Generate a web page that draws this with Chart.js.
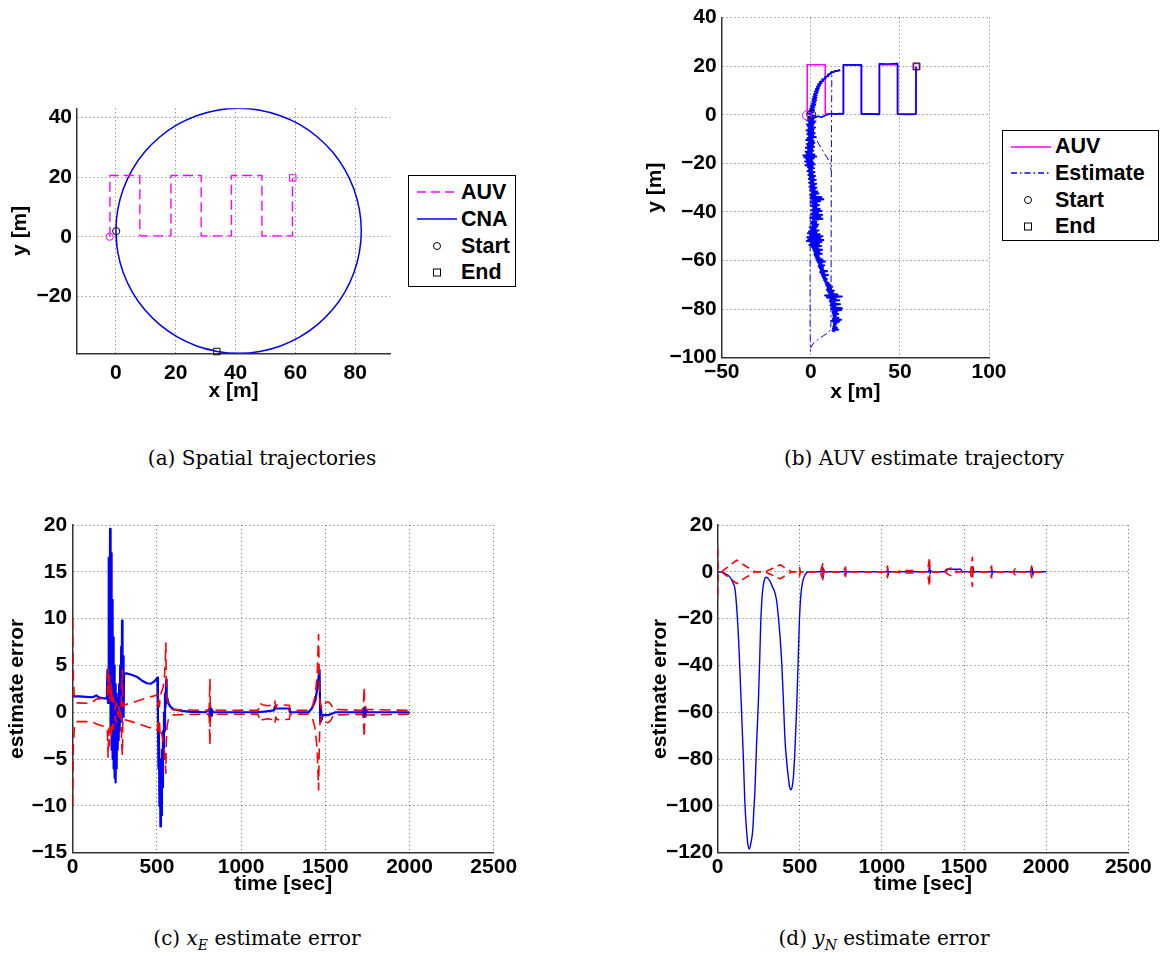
<!DOCTYPE html>
<html><head><meta charset="utf-8">
<script src="https://cdn.jsdelivr.net/npm/chart.js@4.4.1/dist/chart.umd.min.js"></script>
<style>
html,body{margin:0;padding:0;background:#fff;}
body{width:1161px;height:968px;position:relative;overflow:hidden;}
canvas{position:absolute;}
.legend{position:absolute;border:1px solid #000;background:#fff;box-sizing:border-box;z-index:5;}
.legend span{position:absolute;font:bold 21.5px "Liberation Sans",Arial,Helvetica,sans-serif;line-height:24px;height:24px;white-space:nowrap;color:#000;}
.legend svg{position:absolute;left:0;top:0;}
.cap{position:absolute;width:400px;text-align:center;font:20px "DejaVu Serif",serif;line-height:24px;color:#000;white-space:nowrap;}
.cap sub{font-size:70%;}
</style></head><body>

<div class="legend" style="left:408px;top:175px;width:108px;height:112px;">
  <svg width="106" height="110">
    <line x1="8" y1="16" x2="48" y2="16" stroke="#ff00ff" stroke-width="1.4" stroke-dasharray="9,5"/>
    <line x1="8" y1="43" x2="48" y2="43" stroke="#0000ff" stroke-width="1.4"/>
    <circle cx="28" cy="70" r="3.5" fill="none" stroke="#000" stroke-width="1"/>
    <rect x="24.5" y="93" width="7" height="7" fill="none" stroke="#000" stroke-width="1"/>
  </svg>
  <span style="left:52px;top:4px;">AUV</span>
  <span style="left:52px;top:31px;">CNA</span>
  <span style="left:52px;top:58px;">Start</span>
  <span style="left:52px;top:84px;">End</span>
</div>

<div class="legend" style="left:1002px;top:130px;width:157px;height:111px;">
  <svg width="155" height="109">
    <line x1="8" y1="16" x2="48" y2="16" stroke="#ff00ff" stroke-width="1.4"/>
    <line x1="8" y1="42" x2="48" y2="42" stroke="#0000ff" stroke-width="1.3" stroke-dasharray="6,3,1.5,3"/>
    <circle cx="25" cy="69" r="3.5" fill="none" stroke="#000" stroke-width="1"/>
    <rect x="21.5" y="92" width="7" height="7" fill="none" stroke="#000" stroke-width="1"/>
  </svg>
  <span style="left:52px;top:3px;">AUV</span>
  <span style="left:52px;top:30px;">Estimate</span>
  <span style="left:52px;top:57px;">Start</span>
  <span style="left:52px;top:83px;">End</span>
</div>

<div class="cap" style="left:62px;top:446px;">(a) Spatial trajectories</div>
<div class="cap" style="left:724px;top:446px;">(b) AUV estimate trajectory</div>
<div class="cap" style="left:57px;top:926px;">(c) <i>x<sub>E</sub></i> estimate error</div>
<div class="cap" style="left:684px;top:926px;">(d) <i>y<sub>N</sub></i> estimate error</div>

<script>
// ---------- tick labels ----------
const aXTicks = [0, 20, 40, 60, 80];
const aYTicks = [-20, 0, 20, 40];
const bXTicks = [-50, 0, 50, 100];
const bYTicks = [-100, -80, -60, -40, -20, 0, 20, 40];
const cXTicks = [0, 500, 1000, 1500, 2000, 2500];
const cYTicks = [-15, -10, -5, 0, 5, 10, 15, 20];
const dXTicks = [0, 500, 1000, 1500, 2000, 2500];
const dYTicks = [-120, -100, -80, -60, -40, -20, 0, 20];

// ---------- (a) spatial trajectories ----------
const aAuv = [[-2,0],[-2,20.5],[8,20.5],[8,0.3],[18.4,0.3],[18.4,20.5],[28.5,20.5],[28.5,0.3],[38.6,0.3],[38.6,20.5],[48.8,20.5],[48.8,0.3],[59,0.3],[59,19.7]];
const aCna = [[0,2],[0.62,-5.12],[2.47,-12.02],[5.49,-18.5],[9.59,-24.35],[14.65,-29.41],[20.5,-33.51],[26.98,-36.53],[33.88,-38.38],[41,-39],[48.12,-38.38],[55.02,-36.53],[61.5,-33.51],[67.35,-29.41],[72.41,-24.35],[76.51,-18.5],[79.53,-12.02],[81.38,-5.12],[82,2],[81.38,9.12],[79.53,16.02],[76.51,22.5],[72.41,28.35],[67.35,33.41],[61.5,37.51],[55.02,40.53],[48.12,42.38],[41,43],[33.88,42.38],[26.98,40.53],[20.5,37.51],[14.65,33.41],[9.59,28.35],[5.49,22.5],[2.47,16.02],[0.62,9.12],[0,2],[0.62,-5.12],[2.47,-12.02],[5.49,-18.5],[9.59,-24.35],[14.65,-29.41],[20.5,-33.51],[26.98,-36.53],[33.88,-38.38]];
const aAuvStart = [[-2.1,0]];
const aAuvEnd = [[59.1,19.7]];
const aCnaStart = [[0.1,1.9]];
const aCnaEnd = [[33.7,-38.4]];

// ---------- (b) AUV estimate trajectory ----------
const bAuv = [[-2,0],[-2,20.6],[8.1,20.6],[8.1,0.4],[18.3,0.4],[18.3,20.5],[28.4,20.5],[28.4,0.3],[38.5,0.3],[38.5,20.6],[48.7,20.6],[48.7,0.3],[59,0.3],[59,19.9]];
const bEstLawn = [[11.8,0.5],[14,0.3],[16,0.5],[18.3,0.4],[18.3,10],[18.3,20.6],[23,20.5],[28.4,20.6],[28.4,10],[28.4,0.3],[33,0.4],[38.5,0.2],[38.5,10],[38.5,21],[43,20.9],[48.7,21.1],[48.7,10],[48.7,0.3],[54,0.2],[59,0.3],[59,10],[59.1,19.8]];
const bEstUp = [[0,0],[-1.2,0.5],[1.4,1],[-0.8,1.5],[1.8,2],[-0.4,2.5],[2,3],[0,3.5],[2.4,4],[0.4,4.5],[2.6,5],[0.8,5.5],[3,6],[1,6.5],[3.2,7],[1.4,7.5],[3.4,8],[1.8,8.5],[3.8,9],[2.2,9.5],[4.2,10],[2.8,10.5],[4.6,11],[3.4,11.5],[5.2,12],[4,12.5],[6,13],[5,13.5],[7,14],[6.4,14.5],[8.4,15],[8,15.5],[10,16],[9.6,16.5],[11.4,17],[11.2,17.4],[13,17.6],[13.4,18],[14.8,18],[16.5,18.4]];
const bEstArm = [[0,-0.5],[2,-1.2],[4,-0.6],[6,-1],[8,-0.3],[10,0.2],[11.8,0.4]];
const bEstDown = [[0,0],[1.8,-0.4],[-1.2,-0.8],[2.2,-1.2],[-1.5,-1.6],[1.4,-2],[-2,-2.4],[2.6,-2.8],[-1,-3.2],[1.8,-3.6],[-2.2,-4],[1.2,-4.4],[-1.6,-4.8],[2.4,-5.2],[-1.2,-5.6],[1.6,-6],[-2.4,-6.4],[1,-6.8],[-1.4,-7.2],[2.2,-7.6],[-2,-8],[1.4,-8.4],[-1,-8.8],[2.8,-9.2],[-1.8,-9.6],[1,-10],[-2.6,-10.4],[1.6,-10.8],[-1.2,-11.2],[2,-11.6],[-2.2,-12],[1.2,-12.4],[-1.8,-12.8],[1.8,-13.2],[-2.8,-13.6],[0.8,-14],[-1.6,-14.4],[1.4,-14.8],[-3,-15.2],[0.6,-15.6],[-2.2,-16],[2,-16.4],[-4.2,-16.8],[3,-17.2],[-3.6,-17.6],[1.6,-18],[-2.4,-18.4],[0.8,-18.8],[-3.2,-19.2],[1.4,-19.6],[-2,-20],[2.2,-20.4],[-3,-20.8],[1,-21.2],[-1.6,-21.6],[1.8,-22],[-1,-22.4],[0.6,-22.8],[-2,-23.2],[2,-23.6],[-0.8,-24],[1.2,-24.4],[-1.4,-24.8],[2.4,-25.2],[-0.6,-25.6],[1.6,-26],[-1.2,-26.4],[2.8,-26.8],[0,-27.2],[1.4,-27.6],[-1,-28],[3,-28.4],[0.2,-28.8],[2,-29.2],[-0.8,-29.6],[3.2,-30],[0.4,-30.4],[2.2,-30.8],[-0.4,-31.2],[3.6,-31.6],[0.6,-32],[4.4,-32.4],[-0.4,-32.8],[2.6,-33.2],[0.2,-33.6],[6,-34],[-0.2,-34.4],[7,-34.8],[0.8,-35.2],[5.2,-35.6],[0,-36],[3.4,-36.4],[1,-36.8],[4.6,-37.2],[0.4,-37.6],[3,-38],[1.4,-38.4],[5,-38.8],[0.6,-39.2],[6,-39.6],[1,-40],[4,-40.4],[0.2,-40.8],[6.4,-41.2],[0.8,-41.6],[5.4,-42],[-0.2,-42.4],[6.6,-42.8],[1.2,-43.2],[3.4,-43.6],[0.4,-44],[3,-44.4],[0,-44.8],[4.2,-45.2],[1,-45.6],[3.6,-46],[-0.6,-46.4],[2.8,-46.8],[0.2,-47.2],[4.4,-47.6],[-1,-48],[3.2,-48.4],[-1.6,-48.8],[5,-49.2],[-0.4,-49.6],[6.6,-50],[-2,-50.4],[5.4,-50.8],[-1.4,-51.2],[7,-51.6],[-2.2,-52],[6,-52.4],[0,-52.8],[4.6,-53.2],[-0.8,-53.6],[5.8,-54],[0.6,-54.4],[4,-54.8],[1.2,-55.2],[6.4,-55.6],[1.6,-56],[4.8,-56.4],[2.2,-56.8],[6.2,-57.2],[2,-57.6],[4.4,-58],[2.6,-58.4],[5,-58.8],[3,-59.2],[6.6,-59.6],[3.4,-60],[8,-60.4],[4,-60.8],[6,-61.2],[4.6,-61.6],[7.6,-62],[4.4,-62.4],[6.8,-62.8],[5,-63.2],[7,-63.6],[5.6,-64],[9.2,-64.4],[5.2,-64.8],[7.4,-65.2],[6,-65.6],[9.6,-66],[6.4,-66.4],[8,-66.8],[7,-67.2],[9,-67.6],[7.4,-68],[8.8,-68.4],[8,-68.8],[10,-69.2],[8.4,-69.6],[11,-70],[8.8,-70.4],[12,-70.8],[9.4,-71.2],[11.4,-71.6],[9,-72],[13,-72.4],[9.6,-72.8],[12.4,-73.2],[10.4,-73.6],[15,-74],[8,-74.4],[17.4,-74.8],[9,-75.2],[14,-75.6],[11,-76],[16,-76.4],[10.6,-76.8],[13.4,-77.2],[11.4,-77.6],[16.4,-78],[11,-78.4],[13.6,-78.8],[12,-79.2],[17.4,-79.6],[11.6,-80],[17,-80.4],[12.4,-80.8],[14.6,-81.2],[12.2,-81.6],[15.4,-82],[12.6,-82.4],[14,-82.8],[12.8,-83.2],[15.6,-83.6],[12.4,-84],[17,-84.4],[11.6,-84.8],[15.8,-85.2],[12.8,-85.6],[14.4,-86],[13,-86.4],[13.8,-86.8],[12.6,-87.2],[14.6,-87.6],[12.4,-88],[15.4,-88.4],[12.2,-88.8],[13.6,-89.2]];
const bEstThinA = [[-0.2,-4],[-0.3,-30],[-0.4,-60],[-0.4,-85],[-0.3,-95],[-0.2,-97.5]];
const bEstThinB = [[-0.2,-96],[1.5,-94],[4,-92.5],[7,-91],[9.5,-89.8],[11,-88.5],[11.3,-86],[11.4,-60],[11.5,-30],[11.6,-10],[11.7,5],[11.8,18]];
const bEstThinC = [[0.8,-5],[2,-8],[4,-11.5],[6.5,-14.5],[9,-17.5],[10.8,-20],[11.4,-23]];
const bAuvStart = [[-2.2,-0.3]];
const bEstStart = [[0.3,0]];
const bEnd = [[59.3,19.9]];

// ---------- (c) x_E estimate error ----------
const cBlue = [[0,1.7],[40,1.7],[80,1.65],[120,1.6],[140,1.8],[155,1.6],[180,1.5],[203,1.45],[206,4.5],[210,1.0],[214,16.5],[218,3],[222,19.6],[225,-2],[228,17],[231,-4],[234,12],[237,-5],[240,8],[243,-6],[246,5],[249,-7],[252,3],[255,-7.5],[258,2],[261,-6],[264,1],[267,-4],[270,1.5],[273,-3],[276,3],[279,-2],[282,5],[285,-1],[288,7],[291,-1],[293,9.8],[296,0],[299,6],[302,-0.5],[305,4.1],[320,4.15],[350,4.0],[380,3.8],[410,3.4],[440,3.1],[465,3.05],[485,3.3],[500,3.6],[503,3.7],[506,0],[509,-6],[512,-2],[515,-10],[518,-5],[521,-12.2],[524,-7],[527,-11],[530,-4],[533,-8],[536,-2],[539,-5],[542,0],[545,-2],[548,2],[551,0.5],[555,3.5],[558,1],[562,1.5],[570,0.9],[580,0.6],[600,0.3],[650,0.15],[700,0.05],[790,0],[810,0.3],[815,-0.5],[818,0.5],[822,-0.4],[826,0.3],[835,0],[1100,0],[1150,0.1],[1195,0.2],[1200,0.6],[1205,0.4],[1285,0.4],[1290,0],[1400,0],[1420,0.4],[1440,1.2],[1452,2.5],[1460,3.8],[1466,4.5],[1470,-1],[1474,0.5],[1478,-0.8],[1485,-0.3],[1520,-0.3],[1560,0],[1720,0],[1725,0.4],[1730,-0.5],[1733,0.5],[1737,-0.4],[1742,0.2],[1750,0],[2000,0]];
const cRedUp = [[0,10],[2,6],[5,3],[10,1.6],[20,1.0],[110,0.95],[140,1.4],[200,1.5],[206,1.7],[210,4.8],[214,2.2],[218,4.0],[222,1.2],[228,3.0],[235,0.8],[242,1.6],[250,0.3],[258,1.0],[266,0.2],[274,0.6],[280,-0.2],[287,0.4],[292,3.5],[295,4.5],[298,0.6],[310,0.8],[350,1.0],[400,1.3],[450,1.6],[495,1.8],[503,2.0],[507,0.7],[511,1.6],[515,0.6],[520,1.8],[528,2.2],[536,2.6],[544,3.5],[550,5.5],[553,7.4],[556,3.0],[561,1.4],[570,0.6],[590,0.3],[650,0.25],[805,0.2],[811,0.6],[815,3.5],[817,0.7],[825,0.35],[860,0.22],[1100,0.2],[1106,0.5],[1112,1.0],[1125,0.8],[1160,0.7],[1192,0.8],[1200,1.2],[1206,0.5],[1214,0.8],[1286,0.75],[1292,0.2],[1400,0.2],[1425,0.7],[1440,1.8],[1452,4],[1460,8.3],[1464,4],[1468,1.2],[1478,0.4],[1492,0.6],[1505,1.1],[1520,1.1],[1535,0.8],[1548,0.3],[1720,0.2],[1727,0.8],[1731,2.7],[1734,0.8],[1745,0.3],[2000,0.2]];
const cRedLow = [[0,-10],[2,-6],[5,-3],[10,-1.6],[20,-1.0],[110,-1.0],[150,-1.3],[200,-1.6],[206,-1.7],[210,-4.8],[214,-1.8],[218,-3.6],[222,-1.5],[228,-2.6],[235,-1.0],[242,-1.8],[250,-0.4],[258,-1.1],[266,0.1],[274,-0.5],[280,0.3],[287,-0.4],[292,-3.8],[295,-4.6],[298,-0.6],[310,-0.8],[350,-1.0],[400,-1.3],[450,-1.6],[495,-1.8],[503,-2.0],[507,-0.8],[511,-1.9],[515,-0.9],[520,-2.6],[528,-2.2],[536,-3.0],[544,-4.2],[550,-5.5],[553,-6.5],[556,-3.0],[561,-1.4],[570,-0.6],[590,-0.3],[650,-0.25],[805,-0.2],[811,-0.6],[815,-3.5],[817,-0.7],[825,-0.35],[860,-0.22],[1100,-0.2],[1106,-0.5],[1112,-1.0],[1125,-0.8],[1160,-0.7],[1192,-0.8],[1200,-1.2],[1206,-0.5],[1214,-0.8],[1286,-0.75],[1292,-0.2],[1400,-0.2],[1425,-0.7],[1440,-1.8],[1452,-4],[1460,-8.3],[1464,-4],[1468,-1.2],[1478,-0.4],[1492,-0.6],[1505,-1.1],[1520,-1.1],[1535,-0.8],[1548,-0.3],[1720,-0.2],[1727,-0.8],[1731,-2.7],[1734,-0.8],[1745,-0.3],[2000,-0.2]];

// ---------- (d) y_N estimate error ----------
const dBlue = [[0,0],[40,-0.5],[75,-2.3],[95,-5],[106,-7.7],[116,-15.6],[128,-30],[140,-50.6],[156,-79],[165,-98],[173,-107.7],[183,-116],[193,-118.4],[203,-115.5],[213,-110.6],[220,-102],[227,-93],[237,-73],[248,-55],[256,-37],[262,-22],[268,-13],[274,-7.7],[284,-3.5],[294,-2.3],[306,-2.8],[319,-4.1],[334,-6.5],[349,-9.1],[360,-13],[369,-19.1],[380,-28],[390,-39],[400,-55],[410,-72],[420,-81],[430,-87.7],[438,-92],[445,-93.1],[453,-92],[461,-87.7],[471,-75],[481,-57.7],[489,-40],[497,-22],[504,-12],[512,-6.3],[522,-3],[532,-1.3],[552,0],[636,0],[640,2],[643,-2.5],[646,1],[650,0],[775,0],[779,1],[782,-1],[786,0],[1030,0],[1035,1.5],[1038,-1.5],[1042,0],[1285,0],[1290,3],[1293,-1],[1297,0.5],[1310,0],[1380,0],[1395,1.2],[1400,1.1],[1480,1.1],[1490,0],[1550,0],[1555,2.2],[1558,-0.5],[1562,0.3],[1570,0],[1665,0],[1669,1],[1672,-1],[1676,0],[1912,0],[1916,1.5],[1919,-1.5],[1923,0],[2000,0]];
const dRedUp = [[0,10],[3,1],[8,0],[24,0],[70,2.6],[116,5],[170,2.5],[227,0],[288,0],[335,1.5],[380,3],[415,1.5],[450,0],[485,0],[499,1.8],[502,0],[625,0],[642,3.8],[644,0],[765,0],[778,2],[780,0],[1025,0],[1034,2.5],[1036,0],[1100,0],[1110,0.5],[1190,0.5],[1200,0],[1265,0],[1282,2.5],[1290,6.2],[1292,0],[1384,0],[1405,1.2],[1420,1.6],[1440,1.2],[1455,0],[1540,0],[1551,6.2],[1553,0],[1655,0],[1668,2.5],[1670,0],[1800,0],[1810,1.3],[1812,0],[1905,0],[1912,2.5],[1914,0],[2000,0]];
const dRedLow = [[0,-10],[3,-1],[8,0],[24,0],[70,-2.6],[116,-5],[170,-2.5],[227,0],[288,0],[335,-1.5],[380,-3],[415,-1.5],[450,0],[485,0],[499,-1.8],[502,0],[625,0],[642,-3.8],[644,0],[765,0],[778,-2],[780,0],[1025,0],[1034,-2.5],[1036,0],[1100,0],[1110,-0.5],[1190,-0.5],[1200,0],[1265,0],[1282,-2.5],[1290,-6.2],[1292,0],[1384,0],[1405,-1.2],[1420,-1.6],[1440,-1.2],[1455,0],[1540,0],[1551,-6.2],[1553,0],[1655,0],[1668,-2.5],[1670,0],[1800,0],[1810,-1.3],[1812,0],[1905,0],[1912,-2.5],[1914,0],[2000,0]];

// ---------- helpers ----------
const FONT = '"Liberation Sans", Arial, Helvetica, sans-serif';
const FS = 21;
const BLUE = '#0000ff', RED = '#ff0000', MAG = '#ff00ff';
function fmt(v) { return v < 0 ? '\u2212' + Math.abs(v) : String(v); }
function xy(arr) { return arr.map(p => ({x: p[0], y: p[1]})); }
function line(arr, color, width, dash, extra) {
  return Object.assign({
    data: xy(arr), showLine: true, borderColor: color, backgroundColor: color,
    borderWidth: width, borderDash: dash || [], pointRadius: 0, pointHoverRadius: 0,
    tension: 0, fill: false, borderJoinStyle: 'round'
  }, extra || {});
}
function marker(arr, color, style, r) {
  return {
    data: xy(arr), showLine: false, pointStyle: style, pointRadius: r, pointHoverRadius: r,
    pointBorderColor: color, pointBackgroundColor: 'rgba(0,0,0,0)', pointBorderWidth: 1,
    borderColor: color, backgroundColor: 'rgba(0,0,0,0)', clip: false
  };
}
function scaleCfg(s, isX, size) {
  return {
    type: 'linear', position: isX ? 'bottom' : 'left', min: s.min, max: s.max,
    afterBuildTicks: sc => { sc.ticks = s.ticks.map(v => ({value: v})); },
    afterFit: sc => { if (isX) sc.height = size; else sc.width = size; },
    ticks: { font: {family: FONT, size: FS, weight: 'bold'}, color: '#000', padding: s.lp,
             autoSkip: false, maxRotation: 0, minRotation: 0, callback: v => fmt(v) },
    grid: { color: 'rgba(0,0,0,0.6)', lineWidth: 1, drawTicks: false },
    border: { display: true, color: '#333', width: 1.5, dash: [1, 3] },
    title: { display: true, text: s.title, color: '#000', font: {family: FONT, size: FS, weight: 'bold'},
             padding: isX ? {top: 0, bottom: s.tp} : {top: s.tp, bottom: 0} }
  };
}
function mk(rect, area, xs, ys, datasets) {
  const c = document.createElement('canvas');
  c.width = rect.w; c.height = rect.h;
  c.style.left = rect.x + 'px'; c.style.top = rect.y + 'px';
  c.style.width = rect.w + 'px'; c.style.height = rect.h + 'px';
  document.body.appendChild(c);
  return new Chart(c.getContext('2d'), {
    type: 'scatter',
    data: {datasets},
    options: {
      responsive: false, animation: false, devicePixelRatio: 1, events: [],
      layout: {padding: {left: 0, top: area.t - rect.y, right: rect.x + rect.w - area.r, bottom: 0}},
      plugins: {legend: {display: false}, tooltip: {enabled: false}},
      scales: { x: scaleCfg(xs, true, rect.y + rect.h - area.b), y: scaleCfg(ys, false, area.l - rect.x) }
    }
  });
}

// (a)
mk({x: 0, y: 90, w: 400, h: 330}, {l: 77, t: 108.3, r: 390, b: 353.3},
  {min: -13, max: 91.6, ticks: aXTicks, title: 'x [m]', lp: 7, tp: 16.4},
  {min: -39, max: 43, ticks: aYTicks, title: 'y [m]', lp: 5, tp: 7.4},
  [
    marker(aCnaEnd, '#000', 'rect', 4.6),
    marker(aCnaStart, '#000', 'circle', 3.6),
    marker(aAuvEnd, MAG, 'rect', 4.6),
    marker(aAuvStart, MAG, 'circle', 3.6),
    line(aAuv, MAG, 1.4, [10, 5]),
    line(aCna, BLUE, 1.5, [], {tension: 0.3})
  ]);

// (b)
const dashDot = [7, 3, 2, 3];
mk({x: 640, y: 0, w: 380, h: 420}, {l: 721.7, t: 14, r: 989, b: 357.7},
  {min: -50, max: 100, ticks: bXTicks, title: 'x [m]', lp: 1.5, tp: 15.4},
  {min: -100, max: 40, ticks: bYTicks, title: 'y [m]', lp: 5, tp: 2.4},
  [
    marker(bEnd, '#000', 'rect', 4.8),
    marker(bEnd, MAG, 'rect', 3.8),
    marker(bEstStart, '#000', 'circle', 4.5),
    marker(bAuvStart, MAG, 'circle', 4.5),
    line(bEstLawn, BLUE, 1.7, []),
    line(bEstUp, BLUE, 2, []),
    line(bEstArm, BLUE, 1.5, []),
    line(bEstDown, BLUE, 2, []),
    line(bEstThinA, BLUE, 1, dashDot),
    line(bEstThinB, BLUE, 1, dashDot),
    line(bEstThinC, BLUE, 1, dashDot),
    line(bAuv, MAG, 1.5, [])
  ]);

// (c)
mk({x: 0, y: 500, w: 520, h: 410}, {l: 72.7, t: 525, r: 493.7, b: 852.7},
  {min: 0, max: 2500, ticks: cXTicks, title: 'time [sec]', lp: 1.7, tp: 13.4},
  {min: -15, max: 20, ticks: cYTicks, title: 'estimate error', lp: 5.5, tp: 4.9},
  [
    line(cRedUp, RED, 1.6, [11, 6]),
    line(cRedLow, RED, 1.6, [11, 6]),
    line(cBlue, BLUE, 2.2, [])
  ]);

// (d)
mk({x: 640, y: 500, w: 521, h: 410}, {l: 717.7, t: 525, r: 1128.3, b: 852.7},
  {min: 0, max: 2500, ticks: dXTicks, title: 'time [sec]', lp: 1.7, tp: 13.4},
  {min: -120, max: 20, ticks: dYTicks, title: 'estimate error', lp: 4.5, tp: 7.4},
  [
    line(dRedUp, RED, 1.6, [8, 5]),
    line(dRedLow, RED, 1.6, [8, 5]),
    line(dBlue, BLUE, 1.4, [], {cubicInterpolationMode: 'monotone'})
  ]);
</script>
</body></html>
